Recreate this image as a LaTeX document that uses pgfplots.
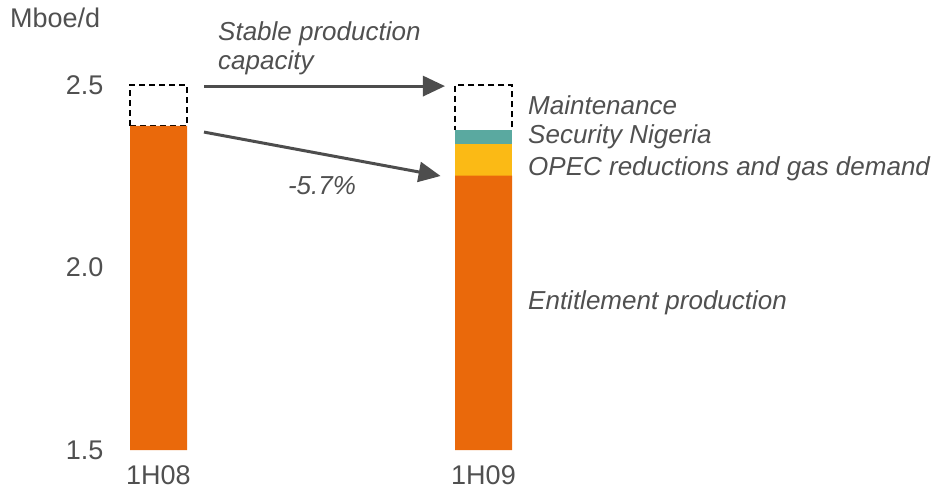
\documentclass[border=0pt]{standalone}
\usepackage{pgfplots}
\pgfplotsset{compat=1.18}
\usepackage{fontspec}
\setmainfont{Liberation Sans}
\usetikzlibrary{arrows.meta}

\definecolor{entorange}{HTML}{EA690B}
\definecolor{opecyellow}{HTML}{FBBA15}
\definecolor{secteal}{HTML}{5AA9A0}
\definecolor{txtgray}{HTML}{505050}
\definecolor{arrgray}{HTML}{4D4D4D}

\tikzset{
  lbl/.style={text=txtgray, font=\fontsize{26}{28.5}\selectfont\itshape, inner sep=0pt},
  arr/.style={line width=3pt, draw=arrgray, -{Triangle[length=22pt,width=20pt]}},
}

\begin{document}
\begin{tikzpicture}
\begin{axis}[
  scale only axis,
  width=829pt, height=450pt,
  xmin=-0.14923, xmax=2.40154,
  ymin=1.5, ymax=2.7329,
  axis line style={draw=none},
  ybar stacked,
  bar width=0.1754,
  clip=false,
  xtick={0,1}, xticklabels={1H08,1H09},
  ytick={1.5,2.0,2.5},
  yticklabels={1.5,2.0,2.5},
  major tick length=0pt,
  tick label style={font=\fontsize{27}{30}\selectfont, text=txtgray},
  yticklabel style={anchor=east, xshift=-3pt},
  xticklabel style={anchor=north, yshift=-15pt, inner sep=0pt},
]
% entitlement production
\addplot[fill=entorange, draw=none] coordinates {(0,2.388) (1,2.252)};
% OPEC reductions and gas demand
\addplot[fill=opecyellow, draw=none] coordinates {(0,0) (1,0.086)};
% security Nigeria
\addplot[fill=secteal, draw=none] coordinates {(0,0) (1,0.038)};
% maintenance / stable capacity gap
\addplot[fill=none, draw=black, dash pattern=on 6pt off 4pt, line width=1.4pt] coordinates {(0,0.112) (1,0.124)};

\draw[arr] (axis cs:0.14,2.497) -- (axis cs:0.8815,2.497);
\draw[arr] (axis cs:0.14,2.371) -- (axis cs:0.868,2.2507);

\node[lbl, anchor=west, align=left] at (axis cs:0.183,2.600) {Stable production\\capacity};
\node[lbl] at (axis cs:0.503,2.224) {-5.7\%};
\node[lbl, anchor=west] at (axis cs:1.1369,2.446) {Maintenance};
\node[lbl, anchor=west] at (axis cs:1.1369,2.358) {Security Nigeria};
\node[lbl, anchor=west] at (axis cs:1.1369,2.271) {OPEC reductions and gas demand};
\node[lbl, anchor=west] at (axis cs:1.1369,1.904) {Entitlement production};
\node[anchor=west, inner sep=0pt, text=txtgray, font=\fontsize{27}{30}\selectfont] at (axis cs:-0.457,2.684) {Mboe/d};

\coordinate (bbl) at (axis cs:-0.4877,1.3959);
\coordinate (btr) at (axis cs:2.4015,2.7329);
\end{axis}
\pgfresetboundingbox
\path (bbl) rectangle (btr);
\end{tikzpicture}
\end{document}
